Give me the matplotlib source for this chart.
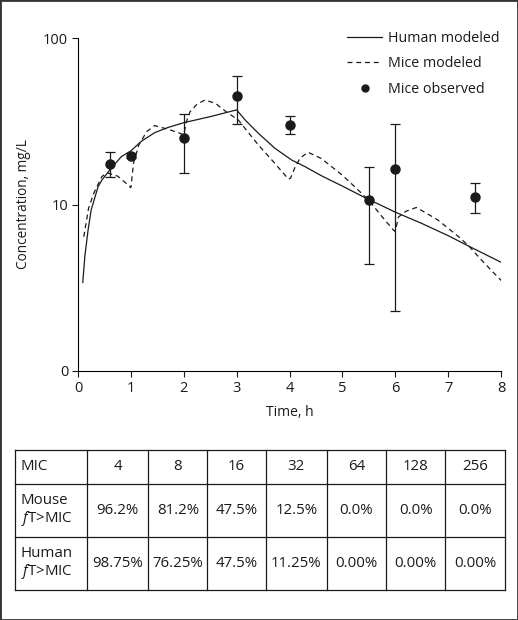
import matplotlib
matplotlib.use("Agg")
import matplotlib.pyplot as plt
from matplotlib.patches import Rectangle

plt.rcParams["font.family"] = ["Open Sans", "DejaVu Sans"]
plt.rcParams["mathtext.fontset"] = "custom"
plt.rcParams["mathtext.rm"] = "Open Sans"
plt.rcParams["mathtext.it"] = "Open Sans:italic"

# modeled human concentration (solid)
human_t = [0.09, 0.13, 0.19, 0.25, 0.38, 0.45, 0.6, 0.82, 1.0, 1.2, 1.45, 1.7, 2.0, 2.5,
           3.0, 3.16, 3.41, 3.72, 4.04, 4.29, 4.6, 5.0, 5.45, 6.0, 6.5, 7.0, 7.4, 8.0]
human_c = [3.4, 4.9, 7.0, 9.3, 12.8, 14.0, 16.1, 19.4, 21.0, 24.0, 27.0, 29.0, 31.0, 33.7,
           37.0, 32.2, 26.8, 21.8, 18.5, 16.9, 14.9, 12.9, 10.9, 9.0, 7.7, 6.5, 5.6, 4.5]

# modeled mice concentration (dashed)
mice_t = [0.11, 0.2, 0.3, 0.45, 0.55, 0.75, 0.9, 1.0, 1.05, 1.15, 1.3, 1.45, 1.7, 1.9,
          2.0, 2.05, 2.12, 2.25, 2.4, 2.6, 2.8, 3.03, 3.41, 3.72, 3.98, 4.02, 4.1, 4.2,
          4.35, 4.6, 5.0, 5.3, 5.5, 5.75, 5.97, 6.0, 6.06, 6.2, 6.4, 6.8, 7.2, 7.4, 7.6, 8.0]
mice_c = [6.4, 9.5, 11.7, 14.7, 15.5, 14.8, 13.5, 12.6, 17.7, 22.8, 27.4, 29.8, 28.3, 27.0,
          26.2, 31.4, 36.1, 40.0, 42.4, 40.5, 36.1, 32.2, 22.8, 17.7, 14.2, 14.4, 16.6, 19.0,
          20.6, 18.9, 15.0, 12.2, 10.6, 8.45, 7.0, 6.9, 8.4, 9.1, 9.6, 8.1, 6.4, 5.6, 4.75, 3.5]

# observed mice concentrations with error bars
obs_t = [0.6, 1.0, 2.0, 3.0, 4.0, 5.5, 6.0, 7.5]
obs_c = [17.5, 19.6, 25.1, 44.9, 30.0, 10.6, 16.3, 11.1]
obs_lo = [14.6, 18.9, 15.4, 30.3, 26.4, 4.4, 2.3, 8.9]
obs_hi = [20.7, 20.4, 34.8, 59.4, 33.9, 16.8, 30.3, 13.4]

# table
mic_values = ["4", "8", "16", "32", "64", "128", "256"]
mouse_ft = ["96.2%", "81.2%", "47.5%", "12.5%", "0.0%", "0.0%", "0.0%"]
human_ft = ["98.75%", "76.25%", "47.5%", "11.25%", "0.00%", "0.00%", "0.00%"]
row_labels = ["MIC", "Mouse\n$f$T>MIC", "Human\n$f$T>MIC"]

ink = "#1a1a1a"
fig = plt.figure(figsize=(5.18, 6.2), dpi=100)
ax = fig.add_axes([78 / 518, 1 - 371 / 620, 423 / 518, 333 / 620])

ax.plot(human_t, human_c, color=ink, lw=0.9, label="Human modeled")
ax.plot(mice_t, mice_c, color=ink, lw=0.9, dashes=(4, 3), label="Mice modeled")
yerr = [[c - lo for c, lo in zip(obs_c, obs_lo)], [hi - c for c, hi in zip(obs_c, obs_hi)]]
ax.errorbar(obs_t, obs_c, yerr=yerr, fmt="o", color=ink, ms=6.5, elinewidth=0.9,
            capsize=3.5, capthick=0.9)
# legend proxy for the observed points (dot only)
ax.plot([], [], "o", color=ink, ms=5, label="Mice observed")

ax.set_yscale("log")
ax.set_ylim(1, 100)
ax.set_xlim(0, 8)
ax.set_yticks([1, 10, 100])
ax.set_yticklabels(["0", "10", "100"])
ax.minorticks_off()
ax.set_xticks(range(9))
for s in ["top", "right"]:
    ax.spines[s].set_visible(False)
for s in ["left", "bottom"]:
    ax.spines[s].set_linewidth(0.8)
ax.tick_params(length=4, width=0.8, labelsize=10.5, pad=3, colors=ink)
ax.set_xlabel("Time, h", fontsize=10, labelpad=7, color=ink)
ax.set_ylabel("Concentration, mg/L", fontsize=9.8, labelpad=9, color=ink)

ax.legend(loc="upper right", bbox_to_anchor=(0.984, 0.966),
          bbox_transform=fig.transFigure, frameon=False, fontsize=10.3,
          handlelength=2.4, handletextpad=0.45, labelspacing=0.72, borderpad=0.2,
          labelcolor=ink)

# table drawn as lines and texts
col_w = [72.6, 61, 59, 58.4, 61, 59, 59.3, 59.7]
row_h = [34, 53, 53]
tax = fig.add_axes([14.7 / 518, 1 - 590 / 620, 490.3 / 518, 140 / 620])
tax.set_xlim(0, sum(col_w))
tax.set_ylim(sum(row_h), 0)
tax.axis("off")

xs = [0]
for w in col_w:
    xs.append(xs[-1] + w)
ys = [0]
for h in row_h:
    ys.append(ys[-1] + h)
for x in xs:
    tax.plot([x, x], [0, ys[-1]], color=ink, lw=0.9, clip_on=False)
for y in ys:
    tax.plot([0, xs[-1]], [y, y], color=ink, lw=0.9, clip_on=False)

rows = [mic_values, mouse_ft, human_ft]
for r, (lab, vals) in enumerate(zip(row_labels, rows)):
    yc = (ys[r] + ys[r + 1]) / 2
    tax.text(6, yc, lab, ha="left", va="center", fontsize=10.8, linespacing=1.05, color=ink)
    for c, v in enumerate(vals):
        xc = (xs[c + 1] + xs[c + 2]) / 2
        tax.text(xc, yc, v, ha="center", va="center", fontsize=10.8, color=ink)

fig.add_artist(Rectangle((0, 0), 1, 1, transform=fig.transFigure, fill=False,
                         lw=2, ec="#333333"))

fig.savefig("out.png", dpi=100)
